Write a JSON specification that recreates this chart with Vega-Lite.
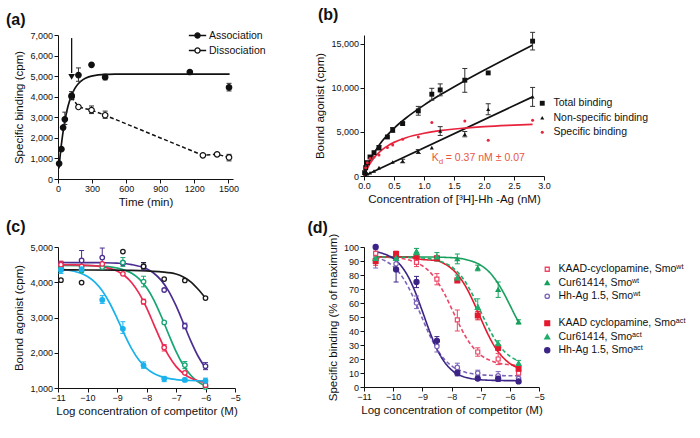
{
 "$schema": "https://vega.github.io/schema/vega-lite/v6.json",
 "padding": {"left": 5, "top": 6, "right": 0, "bottom": 0},
 "config": {
  "font": "Liberation Sans",
  "view": {"stroke": null},
  "axis": {"grid": false, "domainColor": "#111", "tickColor": "#111", "labelColor": "#111", "titleColor": "#111", "labelFontSize": 9, "titleFontSize": 11.5, "titleFontWeight": "normal", "tickSize": 4, "labelPadding": 1.5, "labelFlush": false, "labelOverlap": false, "labelBound": false, "domainWidth": 1, "tickWidth": 1},
  "axisX": {"titlePadding": 3},
  "axisY": {"titlePadding": 5},
  "legend": {"labelFontSize": 10.5, "labelColor": "#111", "rowPadding": 2.5, "symbolStrokeWidth": 1.3, "padding": 0, "labelOffset": 6, "labelLimit": 300, "title": null},
  "title": {"color": "#111"}
 },
 "datasets": {
  "a_fit": [{"t":8,"y":519},{"t":20,"y":1200},{"t":40,"y":2115},{"t":60,"y":2817},{"t":80,"y":3355},{"t":100,"y":3765},{"t":120,"y":4078},{"t":150,"y":4417},{"t":180,"y":4643},{"t":220,"y":4833},{"t":270,"y":4963},{"t":330,"y":5039},{"t":400,"y":5075},{"t":500,"y":5094},{"t":700,"y":5100},{"t":1510,"y":5100}],
  "a_pts": [
   {"s":"Dissociation","t":120,"y":4000},{"s":"Dissociation","t":180,"y":3500},{"s":"Dissociation","t":295,"y":3350,"lo":3180,"hi":3550},{"s":"Dissociation","t":415,"y":3100,"lo":2950,"hi":3300},{"s":"Dissociation","t":1275,"y":1150},{"s":"Dissociation","t":1400,"y":1200,"lo":1130,"hi":1260},{"s":"Dissociation","t":1505,"y":1050,"lo":880,"hi":1200},
   {"s":"Association","t":10,"y":750},{"s":"Association","t":30,"y":1450},{"s":"Association","t":45,"y":2500},{"s":"Association","t":60,"y":2900,"lo":2650,"hi":3250},{"s":"Association","t":120,"y":4050,"lo":3850,"hi":4250},{"s":"Association","t":180,"y":5050,"lo":4750,"hi":5400},{"s":"Association","t":295,"y":5550},{"s":"Association","t":415,"y":4950,"lo":4820,"hi":5100},{"s":"Association","t":1160,"y":5200},{"s":"Association","t":1505,"y":4450,"lo":4280,"hi":4650}
  ],
  "b_fit": [
   {"s":"Total","x":0,"y":0},{"s":"Total","x":0.02,"y":405},{"s":"Total","x":0.05,"y":950},{"s":"Total","x":0.1,"y":1733},{"s":"Total","x":0.15,"y":2394},{"s":"Total","x":0.2,"y":2969},{"s":"Total","x":0.3,"y":3932},{"s":"Total","x":0.4,"y":4727},{"s":"Total","x":0.5,"y":5414},{"s":"Total","x":0.7,"y":6581},{"s":"Total","x":1.0,"y":8042},{"s":"Total","x":1.3,"y":9323},{"s":"Total","x":1.6,"y":10505},{"s":"Total","x":2.0,"y":11994},{"s":"Total","x":2.4,"y":13421},{"s":"Total","x":2.81,"y":14844},
   {"s":"NS","x":0,"y":0},{"s":"NS","x":2.81,"y":8977},
   {"s":"Specific","x":0,"y":0},{"s":"Specific","x":0.02,"y":341},{"s":"Specific","x":0.05,"y":790},{"s":"Specific","x":0.1,"y":1413},{"s":"Specific","x":0.15,"y":1915},{"s":"Specific","x":0.2,"y":2330},{"s":"Specific","x":0.3,"y":2973},{"s":"Specific","x":0.4,"y":3449},{"s":"Specific","x":0.5,"y":3816},{"s":"Specific","x":0.7,"y":4344},{"s":"Specific","x":1.0,"y":4847},{"s":"Specific","x":1.3,"y":5169},{"s":"Specific","x":1.6,"y":5393},{"s":"Specific","x":2.0,"y":5604},{"s":"Specific","x":2.4,"y":5753},{"s":"Specific","x":2.81,"y":5867}
  ],
  "b_pts": [
   {"s":"Total binding","x":2.81,"y":15300,"lo":14300,"hi":16300},{"s":"Total binding","x":2.07,"y":11700},{"s":"Total binding","x":1.68,"y":10870,"lo":9500,"hi":12200},{"s":"Total binding","x":1.27,"y":9770,"lo":9100,"hi":10450},{"s":"Total binding","x":1.13,"y":9280,"lo":8600,"hi":9950},{"s":"Total binding","x":0.905,"y":7390,"lo":6900,"hi":7900},{"s":"Total binding","x":0.644,"y":5950,"lo":5800,"hi":6100},{"s":"Total binding","x":0.478,"y":5230,"lo":4950,"hi":5500},{"s":"Total binding","x":0.39,"y":4430},{"s":"Total binding","x":0.25,"y":3220,"lo":2950,"hi":3450},{"s":"Total binding","x":0.167,"y":2650},{"s":"Total binding","x":0.1,"y":2160},{"s":"Total binding","x":0.056,"y":1515},{"s":"Total binding","x":0.028,"y":950},{"s":"Total binding","x":0.01,"y":380},
   {"s":"Non-specific binding","x":2.81,"y":8980,"lo":7900,"hi":10050},{"s":"Non-specific binding","x":2.07,"y":7580,"lo":6950,"hi":8200},{"s":"Non-specific binding","x":1.68,"y":4730,"lo":4450,"hi":5050},{"s":"Non-specific binding","x":1.27,"y":5110,"lo":4600,"hi":5600},{"s":"Non-specific binding","x":1.13,"y":3220},{"s":"Non-specific binding","x":0.905,"y":2770,"lo":2550,"hi":3000},{"s":"Non-specific binding","x":0.644,"y":1700,"lo":1500,"hi":1900},{"s":"Non-specific binding","x":0.478,"y":1590},{"s":"Non-specific binding","x":0.25,"y":950},{"s":"Non-specific binding","x":0.167,"y":570},{"s":"Non-specific binding","x":0.1,"y":380},{"s":"Non-specific binding","x":0.056,"y":270},{"s":"Non-specific binding","x":0.028,"y":110},
   {"s":"Specific binding","x":2.81,"y":6330},{"s":"Specific binding","x":2.07,"y":4050},{"s":"Specific binding","x":1.68,"y":6250},{"s":"Specific binding","x":1.13,"y":6060},{"s":"Specific binding","x":0.905,"y":4430},{"s":"Specific binding","x":0.644,"y":4170},{"s":"Specific binding","x":0.478,"y":3520},{"s":"Specific binding","x":0.39,"y":3220},{"s":"Specific binding","x":0.25,"y":2390},{"s":"Specific binding","x":0.167,"y":2160},{"s":"Specific binding","x":0.1,"y":2000},{"s":"Specific binding","x":0.056,"y":1515},{"s":"Specific binding","x":0.028,"y":950}
  ],
  "c_fit": [
   {"s":"Hh-Ag 1.1","x":-11,"y":4560},{"s":"Hh-Ag 1.1","x":-10,"y":4558},{"s":"Hh-Ag 1.1","x":-9.5,"y":4554},{"s":"Hh-Ag 1.1","x":-9,"y":4542},{"s":"Hh-Ag 1.1","x":-8.5,"y":4502},{"s":"Hh-Ag 1.1","x":-8,"y":4382},{"s":"Hh-Ag 1.1","x":-7.75,"y":4256},{"s":"Hh-Ag 1.1","x":-7.5,"y":4053},{"s":"Hh-Ag 1.1","x":-7.25,"y":3749},{"s":"Hh-Ag 1.1","x":-7,"y":3334},{"s":"Hh-Ag 1.1","x":-6.75,"y":2842},{"s":"Hh-Ag 1.1","x":-6.5,"y":2338},{"s":"Hh-Ag 1.1","x":-6.25,"y":1901},{"s":"Hh-Ag 1.1","x":-6,"y":1570},
   {"s":"Hh-Ag 1.2","x":-11,"y":4479},{"s":"Hh-Ag 1.2","x":-10,"y":4472},{"s":"Hh-Ag 1.2","x":-9.5,"y":4456},{"s":"Hh-Ag 1.2","x":-9,"y":4405},{"s":"Hh-Ag 1.2","x":-8.5,"y":4253},{"s":"Hh-Ag 1.2","x":-8.25,"y":4096},{"s":"Hh-Ag 1.2","x":-8,"y":3849},{"s":"Hh-Ag 1.2","x":-7.75,"y":3494},{"s":"Hh-Ag 1.2","x":-7.5,"y":3036},{"s":"Hh-Ag 1.2","x":-7.25,"y":2526},{"s":"Hh-Ag 1.2","x":-7,"y":2041},{"s":"Hh-Ag 1.2","x":-6.75,"y":1646},{"s":"Hh-Ag 1.2","x":-6.5,"y":1361},{"s":"Hh-Ag 1.2","x":-6.25,"y":1175},{"s":"Hh-Ag 1.2","x":-6,"y":1060},
   {"s":"Hh-Ag 1.3","x":-11,"y":4498},{"s":"Hh-Ag 1.3","x":-10,"y":4481},{"s":"Hh-Ag 1.3","x":-9.5,"y":4441},{"s":"Hh-Ag 1.3","x":-9,"y":4319},{"s":"Hh-Ag 1.3","x":-8.75,"y":4191},{"s":"Hh-Ag 1.3","x":-8.5,"y":3986},{"s":"Hh-Ag 1.3","x":-8.25,"y":3684},{"s":"Hh-Ag 1.3","x":-8,"y":3277},{"s":"Hh-Ag 1.3","x":-7.75,"y":2800},{"s":"Hh-Ag 1.3","x":-7.5,"y":2324},{"s":"Hh-Ag 1.3","x":-7.25,"y":1917},{"s":"Hh-Ag 1.3","x":-7,"y":1614},{"s":"Hh-Ag 1.3","x":-6.75,"y":1409},{"s":"Hh-Ag 1.3","x":-6.5,"y":1281},{"s":"Hh-Ag 1.3","x":-6.25,"y":1204},{"s":"Hh-Ag 1.3","x":-6,"y":1159},
   {"s":"Hh-Ag 1.5","x":-11,"y":4375},{"s":"Hh-Ag 1.5","x":-10.5,"y":4322},{"s":"Hh-Ag 1.5","x":-10,"y":4165},{"s":"Hh-Ag 1.5","x":-9.75,"y":4005},{"s":"Hh-Ag 1.5","x":-9.5,"y":3758},{"s":"Hh-Ag 1.5","x":-9.25,"y":3411},{"s":"Hh-Ag 1.5","x":-9,"y":2984},{"s":"Hh-Ag 1.5","x":-8.75,"y":2526},{"s":"Hh-Ag 1.5","x":-8.5,"y":2111},{"s":"Hh-Ag 1.5","x":-8.25,"y":1785},{"s":"Hh-Ag 1.5","x":-8,"y":1558},{"s":"Hh-Ag 1.5","x":-7.75,"y":1412},{"s":"Hh-Ag 1.5","x":-7.5,"y":1323},{"s":"Hh-Ag 1.5","x":-7,"y":1240},{"s":"Hh-Ag 1.5","x":-6.5,"y":1213},{"s":"Hh-Ag 1.5","x":-6,"y":1204},
   {"s":"Inactive Hh-Ag","x":-11,"y":4350},{"s":"Inactive Hh-Ag","x":-10,"y":4348},{"s":"Inactive Hh-Ag","x":-9,"y":4342},{"s":"Inactive Hh-Ag","x":-8.5,"y":4335},{"s":"Inactive Hh-Ag","x":-8,"y":4320},{"s":"Inactive Hh-Ag","x":-7.5,"y":4295},{"s":"Inactive Hh-Ag","x":-7,"y":4235},{"s":"Inactive Hh-Ag","x":-6.75,"y":4150},{"s":"Inactive Hh-Ag","x":-6.5,"y":4010},{"s":"Inactive Hh-Ag","x":-6.25,"y":3800},{"s":"Inactive Hh-Ag","x":-6,"y":3550}
  ],
  "c_pts": [
   {"s":"Hh-Ag 1.1","x":-10.9,"y":4480,"lo":4380,"hi":4580},{"s":"Hh-Ag 1.1","x":-10.2,"y":4620,"lo":4450,"hi":4900},{"s":"Hh-Ag 1.1","x":-9.5,"y":4700,"lo":4450,"hi":4970},{"s":"Hh-Ag 1.1","x":-8.8,"y":4540},{"s":"Hh-Ag 1.1","x":-8.1,"y":4450,"lo":4350,"hi":4560},{"s":"Hh-Ag 1.1","x":-7.4,"y":3780},{"s":"Hh-Ag 1.1","x":-6.7,"y":2760,"lo":2680,"hi":2840},{"s":"Hh-Ag 1.1","x":-6.0,"y":1620,"lo":1520,"hi":1720},
   {"s":"Hh-Ag 1.2","x":-10.9,"y":4400,"lo":4300,"hi":4500},{"s":"Hh-Ag 1.2","x":-10.2,"y":4330},{"s":"Hh-Ag 1.2","x":-9.5,"y":4430},{"s":"Hh-Ag 1.2","x":-8.8,"y":4560,"lo":4450,"hi":4700},{"s":"Hh-Ag 1.2","x":-8.1,"y":4020,"lo":3870,"hi":4170},{"s":"Hh-Ag 1.2","x":-7.4,"y":2860},{"s":"Hh-Ag 1.2","x":-6.7,"y":1650,"lo":1550,"hi":1750},{"s":"Hh-Ag 1.2","x":-6.0,"y":1030},
   {"s":"Hh-Ag 1.3","x":-10.9,"y":4500,"lo":4400,"hi":4600},{"s":"Hh-Ag 1.3","x":-10.2,"y":4450},{"s":"Hh-Ag 1.3","x":-9.5,"y":4520},{"s":"Hh-Ag 1.3","x":-8.8,"y":4240},{"s":"Hh-Ag 1.3","x":-8.1,"y":3450,"lo":3380,"hi":3520},{"s":"Hh-Ag 1.3","x":-7.4,"y":2150,"lo":2050,"hi":2230},{"s":"Hh-Ag 1.3","x":-6.7,"y":1430},{"s":"Hh-Ag 1.3","x":-6.0,"y":1080,"lo":1020,"hi":1150},
   {"s":"Hh-Ag 1.5","x":-10.9,"y":4350,"lo":4250,"hi":4450},{"s":"Hh-Ag 1.5","x":-10.2,"y":4370,"lo":4280,"hi":4450},{"s":"Hh-Ag 1.5","x":-9.5,"y":3500,"lo":3400,"hi":3620},{"s":"Hh-Ag 1.5","x":-8.8,"y":2680,"lo":2550,"hi":2880},{"s":"Hh-Ag 1.5","x":-8.1,"y":1640,"lo":1560,"hi":1740},{"s":"Hh-Ag 1.5","x":-7.4,"y":1260,"lo":1180,"hi":1330},{"s":"Hh-Ag 1.5","x":-6.7,"y":1230,"lo":1180,"hi":1280},{"s":"Hh-Ag 1.5","x":-6.0,"y":1200,"lo":1100,"hi":1280},
   {"s":"Inactive Hh-Ag","x":-10.9,"y":4060},{"s":"Inactive Hh-Ag","x":-10.2,"y":3990},{"s":"Inactive Hh-Ag","x":-8.8,"y":4870},{"s":"Inactive Hh-Ag","x":-8.1,"y":4450,"lo":4380,"hi":4550},{"s":"Inactive Hh-Ag","x":-7.4,"y":4090},{"s":"Inactive Hh-Ag","x":-6.7,"y":4050},{"s":"Inactive Hh-Ag","x":-6.0,"y":3550}
  ],
  "d_fit": [
   {"s":"KAAD-cyclopamine,  Smoʷᵗ","x":-10.6,"y":92.8},{"s":"KAAD-cyclopamine,  Smoʷᵗ","x":-10,"y":92.3},{"s":"KAAD-cyclopamine,  Smoʷᵗ","x":-9.5,"y":90.9},{"s":"KAAD-cyclopamine,  Smoʷᵗ","x":-9,"y":86.6},{"s":"KAAD-cyclopamine,  Smoʷᵗ","x":-8.75,"y":82.4},{"s":"KAAD-cyclopamine,  Smoʷᵗ","x":-8.5,"y":75.8},{"s":"KAAD-cyclopamine,  Smoʷᵗ","x":-8.25,"y":67.0},{"s":"KAAD-cyclopamine,  Smoʷᵗ","x":-8,"y":56.2},{"s":"KAAD-cyclopamine,  Smoʷᵗ","x":-7.75,"y":45.2},{"s":"KAAD-cyclopamine,  Smoʷᵗ","x":-7.5,"y":35.4},{"s":"KAAD-cyclopamine,  Smoʷᵗ","x":-7.25,"y":28.0},{"s":"KAAD-cyclopamine,  Smoʷᵗ","x":-7,"y":22.9},{"s":"KAAD-cyclopamine,  Smoʷᵗ","x":-6.5,"y":17.7},{"s":"KAAD-cyclopamine,  Smoʷᵗ","x":-6,"y":15.9},{"s":"KAAD-cyclopamine,  Smoʷᵗ","x":-5.7,"y":15.4},
   {"s":"Cur61414, Smoʷᵗ","x":-10.6,"y":93},{"s":"Cur61414, Smoʷᵗ","x":-9,"y":92.9},{"s":"Cur61414, Smoʷᵗ","x":-8,"y":92.4},{"s":"Cur61414, Smoʷᵗ","x":-7.5,"y":91.0},{"s":"Cur61414, Smoʷᵗ","x":-7,"y":87.0},{"s":"Cur61414, Smoʷᵗ","x":-6.75,"y":83.0},{"s":"Cur61414, Smoʷᵗ","x":-6.5,"y":76.9},{"s":"Cur61414, Smoʷᵗ","x":-6.25,"y":68.6},{"s":"Cur61414, Smoʷᵗ","x":-6,"y":58.6},{"s":"Cur61414, Smoʷᵗ","x":-5.85,"y":52.3},{"s":"Cur61414, Smoʷᵗ","x":-5.7,"y":46.3},
   {"s":"Hh-Ag 1.5, Smoʷᵗ","x":-10.6,"y":92.6},{"s":"Hh-Ag 1.5, Smoʷᵗ","x":-10.25,"y":89.8},{"s":"Hh-Ag 1.5, Smoʷᵗ","x":-10,"y":86.2},{"s":"Hh-Ag 1.5, Smoʷᵗ","x":-9.75,"y":80.5},{"s":"Hh-Ag 1.5, Smoʷᵗ","x":-9.5,"y":72.2},{"s":"Hh-Ag 1.5, Smoʷᵗ","x":-9.25,"y":61.3},{"s":"Hh-Ag 1.5, Smoʷᵗ","x":-9,"y":49.0},{"s":"Hh-Ag 1.5, Smoʷᵗ","x":-8.75,"y":37.0},{"s":"Hh-Ag 1.5, Smoʷᵗ","x":-8.5,"y":27.1},{"s":"Hh-Ag 1.5, Smoʷᵗ","x":-8.25,"y":19.9},{"s":"Hh-Ag 1.5, Smoʷᵗ","x":-8,"y":15.1},{"s":"Hh-Ag 1.5, Smoʷᵗ","x":-7.5,"y":10.4},{"s":"Hh-Ag 1.5, Smoʷᵗ","x":-7,"y":8.8},{"s":"Hh-Ag 1.5, Smoʷᵗ","x":-6.5,"y":8.2},{"s":"Hh-Ag 1.5, Smoʷᵗ","x":-5.7,"y":8.0},
   {"s":"KAAD cyclopamine,  Smoᵃᶜᵗ","x":-10.6,"y":93},{"s":"KAAD cyclopamine,  Smoᵃᶜᵗ","x":-9.5,"y":92.7},{"s":"KAAD cyclopamine,  Smoᵃᶜᵗ","x":-9,"y":91.1},{"s":"KAAD cyclopamine,  Smoᵃᶜᵗ","x":-8.5,"y":90.2},{"s":"KAAD cyclopamine,  Smoᵃᶜᵗ","x":-8.25,"y":88.1},{"s":"KAAD cyclopamine,  Smoᵃᶜᵗ","x":-8,"y":84.6},{"s":"KAAD cyclopamine,  Smoᵃᶜᵗ","x":-7.75,"y":79.2},{"s":"KAAD cyclopamine,  Smoᵃᶜᵗ","x":-7.5,"y":71.3},{"s":"KAAD cyclopamine,  Smoᵃᶜᵗ","x":-7.25,"y":60.9},{"s":"KAAD cyclopamine,  Smoᵃᶜᵗ","x":-7,"y":49.1},{"s":"KAAD cyclopamine,  Smoᵃᶜᵗ","x":-6.75,"y":37.7},{"s":"KAAD cyclopamine,  Smoᵃᶜᵗ","x":-6.5,"y":28.2},{"s":"KAAD cyclopamine,  Smoᵃᶜᵗ","x":-6.25,"y":21.4},{"s":"KAAD cyclopamine,  Smoᵃᶜᵗ","x":-6,"y":16.8},{"s":"KAAD cyclopamine,  Smoᵃᶜᵗ","x":-5.7,"y":13.5},
   {"s":"Cur61414, Smoᵃᶜᵗ","x":-10.6,"y":93},{"s":"Cur61414, Smoᵃᶜᵗ","x":-9,"y":92.2},{"s":"Cur61414, Smoᵃᶜᵗ","x":-8.5,"y":90.6},{"s":"Cur61414, Smoᵃᶜᵗ","x":-8.25,"y":88.8},{"s":"Cur61414, Smoᵃᶜᵗ","x":-8,"y":85.9},{"s":"Cur61414, Smoᵃᶜᵗ","x":-7.75,"y":81.2},{"s":"Cur61414, Smoᵃᶜᵗ","x":-7.5,"y":74.3},{"s":"Cur61414, Smoᵃᶜᵗ","x":-7.25,"y":64.9},{"s":"Cur61414, Smoᵃᶜᵗ","x":-7,"y":54},{"s":"Cur61414, Smoᵃᶜᵗ","x":-6.75,"y":43.1},{"s":"Cur61414, Smoᵃᶜᵗ","x":-6.5,"y":33.7},{"s":"Cur61414, Smoᵃᶜᵗ","x":-6.25,"y":26.8},{"s":"Cur61414, Smoᵃᶜᵗ","x":-6,"y":22.1},{"s":"Cur61414, Smoᵃᶜᵗ","x":-5.7,"y":18.7},
   {"s":"Hh-Ag 1.5, Smoᵃᶜᵗ","x":-10.6,"y":96.6},{"s":"Hh-Ag 1.5, Smoᵃᶜᵗ","x":-10.25,"y":94.6},{"s":"Hh-Ag 1.5, Smoᵃᶜᵗ","x":-10,"y":91.9},{"s":"Hh-Ag 1.5, Smoᵃᶜᵗ","x":-9.75,"y":87.1},{"s":"Hh-Ag 1.5, Smoᵃᶜᵗ","x":-9.5,"y":79.4},{"s":"Hh-Ag 1.5, Smoᵃᶜᵗ","x":-9.25,"y":68.2},{"s":"Hh-Ag 1.5, Smoᵃᶜᵗ","x":-9,"y":54.2},{"s":"Hh-Ag 1.5, Smoᵃᶜᵗ","x":-8.75,"y":39.7},{"s":"Hh-Ag 1.5, Smoᵃᶜᵗ","x":-8.5,"y":27.1},{"s":"Hh-Ag 1.5, Smoᵃᶜᵗ","x":-8.25,"y":18.1},{"s":"Hh-Ag 1.5, Smoᵃᶜᵗ","x":-8,"y":12.2},{"s":"Hh-Ag 1.5, Smoᵃᶜᵗ","x":-7.5,"y":6.8},{"s":"Hh-Ag 1.5, Smoᵃᶜᵗ","x":-7,"y":5.2},{"s":"Hh-Ag 1.5, Smoᵃᶜᵗ","x":-6.5,"y":4.7},{"s":"Hh-Ag 1.5, Smoᵃᶜᵗ","x":-5.7,"y":4.5}
  ],
  "d_pts": [
   {"s":"KAAD-cyclopamine,  Smoʷᵗ","x":-10.6,"y":95.5,"lo":92,"hi":98},{"s":"KAAD-cyclopamine,  Smoʷᵗ","x":-9.9,"y":95},{"s":"KAAD-cyclopamine,  Smoʷᵗ","x":-9.2,"y":89,"lo":86,"hi":92},{"s":"KAAD-cyclopamine,  Smoʷᵗ","x":-8.5,"y":77,"lo":73,"hi":81},{"s":"KAAD-cyclopamine,  Smoʷᵗ","x":-7.8,"y":48,"lo":40,"hi":55},{"s":"KAAD-cyclopamine,  Smoʷᵗ","x":-7.1,"y":25,"lo":22,"hi":28},{"s":"KAAD-cyclopamine,  Smoʷᵗ","x":-6.4,"y":20,"lo":16,"hi":24},{"s":"KAAD-cyclopamine,  Smoʷᵗ","x":-5.7,"y":10,"lo":7,"hi":12},
   {"s":"Cur61414, Smoʷᵗ","x":-10.6,"y":92},{"s":"Cur61414, Smoʷᵗ","x":-9.9,"y":92},{"s":"Cur61414, Smoʷᵗ","x":-9.2,"y":97,"lo":94,"hi":99},{"s":"Cur61414, Smoʷᵗ","x":-8.5,"y":93,"lo":90,"hi":96},{"s":"Cur61414, Smoʷᵗ","x":-7.8,"y":91.5,"lo":88,"hi":95},{"s":"Cur61414, Smoʷᵗ","x":-7.1,"y":85,"lo":83,"hi":87},{"s":"Cur61414, Smoʷᵗ","x":-6.4,"y":69.5,"lo":64,"hi":75},{"s":"Cur61414, Smoʷᵗ","x":-5.7,"y":46.5,"lo":45,"hi":48},
   {"s":"Hh-Ag 1.5, Smoʷᵗ","x":-10.6,"y":91,"lo":85,"hi":96},{"s":"Hh-Ag 1.5, Smoʷᵗ","x":-9.9,"y":88},{"s":"Hh-Ag 1.5, Smoʷᵗ","x":-9.2,"y":60,"lo":56,"hi":65},{"s":"Hh-Ag 1.5, Smoʷᵗ","x":-8.5,"y":29,"lo":25,"hi":33},{"s":"Hh-Ag 1.5, Smoʷᵗ","x":-7.8,"y":14,"lo":11,"hi":17},{"s":"Hh-Ag 1.5, Smoʷᵗ","x":-7.1,"y":10,"lo":7,"hi":12},{"s":"Hh-Ag 1.5, Smoʷᵗ","x":-6.4,"y":8,"lo":6,"hi":11},{"s":"Hh-Ag 1.5, Smoʷᵗ","x":-5.7,"y":6,"lo":4,"hi":8},
   {"s":"KAAD cyclopamine,  Smoᵃᶜᵗ","x":-10.6,"y":90,"lo":87,"hi":93},{"s":"KAAD cyclopamine,  Smoᵃᶜᵗ","x":-9.9,"y":95,"lo":93,"hi":97},{"s":"KAAD cyclopamine,  Smoᵃᶜᵗ","x":-9.2,"y":93},{"s":"KAAD cyclopamine,  Smoᵃᶜᵗ","x":-8.5,"y":92},{"s":"KAAD cyclopamine,  Smoᵃᶜᵗ","x":-7.8,"y":76},{"s":"KAAD cyclopamine,  Smoᵃᶜᵗ","x":-7.1,"y":51,"lo":48,"hi":54},{"s":"KAAD cyclopamine,  Smoᵃᶜᵗ","x":-6.4,"y":28,"lo":26,"hi":30},{"s":"KAAD cyclopamine,  Smoᵃᶜᵗ","x":-5.7,"y":13,"lo":11,"hi":15},
   {"s":"Cur61414, Smoᵃᶜᵗ","x":-10.6,"y":92},{"s":"Cur61414, Smoᵃᶜᵗ","x":-9.9,"y":92},{"s":"Cur61414, Smoᵃᶜᵗ","x":-9.2,"y":96},{"s":"Cur61414, Smoᵃᶜᵗ","x":-8.5,"y":93},{"s":"Cur61414, Smoᵃᶜᵗ","x":-7.8,"y":78,"lo":76,"hi":80},{"s":"Cur61414, Smoᵃᶜᵗ","x":-7.1,"y":57,"lo":52,"hi":63},{"s":"Cur61414, Smoᵃᶜᵗ","x":-6.4,"y":31,"lo":29,"hi":33},{"s":"Cur61414, Smoᵃᶜᵗ","x":-5.7,"y":17,"lo":15,"hi":19},
   {"s":"Hh-Ag 1.5, Smoᵃᶜᵗ","x":-10.6,"y":100},{"s":"Hh-Ag 1.5, Smoᵃᶜᵗ","x":-9.9,"y":84,"lo":75,"hi":92},{"s":"Hh-Ag 1.5, Smoᵃᶜᵗ","x":-9.2,"y":75,"lo":71,"hi":79},{"s":"Hh-Ag 1.5, Smoᵃᶜᵗ","x":-8.5,"y":33,"lo":30,"hi":36},{"s":"Hh-Ag 1.5, Smoᵃᶜᵗ","x":-7.8,"y":10,"lo":8,"hi":12},{"s":"Hh-Ag 1.5, Smoᵃᶜᵗ","x":-7.1,"y":6,"lo":5,"hi":8},{"s":"Hh-Ag 1.5, Smoᵃᶜᵗ","x":-6.4,"y":6,"lo":4,"hi":8},{"s":"Hh-Ag 1.5, Smoᵃᶜᵗ","x":-5.7,"y":4,"lo":3,"hi":6}
  ]
 },
 "columns": 2,
 "bounds": "flush",
 "spacing": {"row": 68, "column": 129},
 "resolve": {"scale": {"color": "independent", "fill": "independent", "stroke": "independent", "shape": "independent", "size": "independent", "strokeDash": "independent"}},
 "concat": [
  {"width": 175, "height": 144,
   "title": {"text": "(a)", "anchor": "start", "frame": "bounds", "fontSize": 16, "fontWeight": "bold", "dx": -8, "offset": -1.5},
   "layer": [
    {"data": {"name": "a_fit"},
     "mark": {"type": "line", "color": "#111", "strokeWidth": 1.7, "interpolate": "monotone"},
     "encoding": {
      "x": {"field": "t", "type": "quantitative", "scale": {"domain": [0, 1540], "nice": false}, "title": "Time (min)", "axis": {"values": [0, 300, 600, 900, 1200, 1500], "tickCount": 30, "format": "d"}},
      "y": {"field": "y", "type": "quantitative", "scale": {"domain": [0, 7000], "nice": false}, "title": "Specific binding (cpm)", "axis": {"values": [0, 1000, 2000, 3000, 4000, 5000, 6000, 7000], "tickCount": 30, "format": ",.0f"}}}},
    {"data": {"name": "a_pts"}, "transform": [{"filter": "datum.s === 'Dissociation'"}],
     "mark": {"type": "line", "color": "#111", "strokeWidth": 1.5, "strokeDash": [4, 2.5]},
     "encoding": {"x": {"field": "t", "type": "quantitative"}, "y": {"field": "y", "type": "quantitative"}}},
    {"data": {"name": "a_pts"}, "transform": [{"filter": "isValid(datum.lo)"}],
     "mark": {"type": "rule", "color": "#333", "strokeWidth": 1},
     "encoding": {"x": {"field": "t", "type": "quantitative"}, "y": {"field": "lo", "type": "quantitative"}, "y2": {"field": "hi"}}},
    {"data": {"name": "a_pts"}, "transform": [{"filter": "isValid(datum.lo)"}, {"fold": ["lo", "hi"], "as": ["k", "v"]}],
     "mark": {"type": "point", "shape": "stroke", "size": 25, "color": "#333", "strokeWidth": 1, "opacity": 1},
     "encoding": {"x": {"field": "t", "type": "quantitative"}, "y": {"field": "v", "type": "quantitative"}}},
    {"data": {"values": [{}]},
     "mark": {"type": "rule", "color": "#111", "strokeWidth": 1.3},
     "encoding": {"x": {"datum": 120, "type": "quantitative"}, "y": {"datum": 6850, "type": "quantitative"}, "y2": {"datum": 5150}}},
    {"data": {"values": [{}]},
     "mark": {"type": "point", "shape": "triangle-down", "filled": true, "color": "#111", "size": 45, "opacity": 1},
     "encoding": {"x": {"datum": 120, "type": "quantitative"}, "y": {"datum": 4960, "type": "quantitative"}}},
    {"data": {"name": "a_pts"},
     "mark": {"type": "point", "filled": true, "stroke": "#111", "strokeWidth": 1.2, "size": 30, "opacity": 1},
     "encoding": {
      "x": {"field": "t", "type": "quantitative"}, "y": {"field": "y", "type": "quantitative"},
      "fill": {"field": "s", "type": "nominal", "scale": {"domain": ["Association", "Dissociation"], "range": ["#111", "white"]},
       "legend": {"orient": "none", "legendX": 130, "legendY": -9, "symbolType": "M-1,0H-0.3M0.3,0H1M-0.3,0A0.3,0.3 0 1,0 0.3,0A0.3,0.3 0 1,0 -0.3,0Z", "symbolSize": 300, "symbolStrokeColor": "#111", "symbolStrokeWidth": 1.3, "labelOffset": 2, "rowPadding": -2,
        "encode": {"symbols": {"update": {"shape": {"signal": "datum.value === 'Dissociation' ? 'M-1,0H-0.8M-0.62,0H-0.42M0.42,0H0.62M0.8,0H1M-0.3,0A0.3,0.3 0 1,0 0.3,0A0.3,0.3 0 1,0 -0.3,0Z' : 'M-1,0H-0.3M0.3,0H1M-0.3,0A0.3,0.3 0 1,0 0.3,0A0.3,0.3 0 1,0 -0.3,0Z'"}, "stroke": {"value": "#111"}}}}}}}}
   ]},
  {"width": 180, "height": 141,
   "title": {"text": "(b)", "anchor": "start", "frame": "bounds", "fontSize": 16, "fontWeight": "bold", "dx": 3, "offset": 7.5},
   "layer": [
    {"data": {"name": "b_fit"},
     "mark": {"type": "line", "strokeWidth": 1.7, "interpolate": "monotone"},
     "encoding": {
      "x": {"field": "x", "type": "quantitative", "scale": {"domain": [0, 3], "nice": false}, "title": "Concentration of [³H]-Hh -Ag (nM)", "axis": {"values": [0, 0.5, 1, 1.5, 2, 2.5, 3], "tickCount": 30, "format": ".1f"}},
      "y": {"field": "y", "type": "quantitative", "scale": {"domain": [0, 16000], "nice": false}, "title": "Bound agonist (cpm)", "axis": {"values": [0, 5000, 10000, 15000], "tickCount": 30, "format": ",.0f"}},
      "color": {"field": "s", "type": "nominal", "scale": {"domain": ["Total", "NS", "Specific"], "range": ["#111", "#111", "#e8233c"]}, "legend": null}}},
    {"data": {"name": "b_pts"}, "transform": [{"filter": "isValid(datum.lo)"}],
     "mark": {"type": "rule", "color": "#333", "strokeWidth": 1},
     "encoding": {"x": {"field": "x", "type": "quantitative"}, "y": {"field": "lo", "type": "quantitative"}, "y2": {"field": "hi"}}},
    {"data": {"name": "b_pts"}, "transform": [{"filter": "isValid(datum.lo)"}, {"fold": ["lo", "hi"], "as": ["k", "v"]}],
     "mark": {"type": "point", "shape": "stroke", "size": 25, "color": "#333", "strokeWidth": 1, "opacity": 1},
     "encoding": {"x": {"field": "x", "type": "quantitative"}, "y": {"field": "v", "type": "quantitative"}}},
    {"data": {"name": "b_pts"},
     "mark": {"type": "point", "filled": true, "opacity": 1, "strokeWidth": 0},
     "encoding": {
      "x": {"field": "x", "type": "quantitative"}, "y": {"field": "y", "type": "quantitative"},
      "shape": {"field": "s", "type": "nominal", "scale": {"domain": ["Total binding", "Non-specific binding", "Specific binding"], "range": ["square", "triangle-up", "circle"]}, "legend": {"orient": "none", "legendX": 173, "legendY": 63, "rowPadding": 3.5}},
      "fill": {"field": "s", "type": "nominal", "scale": {"domain": ["Total binding", "Non-specific binding", "Specific binding"], "range": ["#111", "#111", "#e8233c"]}, "legend": {"orient": "none", "legendX": 173, "legendY": 63, "rowPadding": 3.5}},
      "size": {"field": "s", "type": "nominal", "scale": {"domain": ["Total binding", "Non-specific binding", "Specific binding"], "range": [24, 9, 16]}, "legend": {"orient": "none", "legendX": 173, "legendY": 63, "rowPadding": 3.5}}}},
    {"data": {"values": [{}]},
     "mark": {"type": "text", "text": "K", "align": "left", "baseline": "alphabetic", "fontSize": 10.5, "color": "#e9573f"},
     "encoding": {"x": {"datum": 1.13, "type": "quantitative"}, "y": {"datum": 1700, "type": "quantitative"}}},
    {"data": {"values": [{}]},
     "mark": {"type": "text", "text": "d", "align": "left", "baseline": "alphabetic", "fontSize": 8, "dx": 7, "dy": 3, "color": "#e9573f"},
     "encoding": {"x": {"datum": 1.13, "type": "quantitative"}, "y": {"datum": 1700, "type": "quantitative"}}},
    {"data": {"values": [{}]},
     "mark": {"type": "text", "text": "= 0.37 nM ± 0.07", "align": "left", "baseline": "alphabetic", "fontSize": 10.5, "dx": 14, "color": "#e9573f"},
     "encoding": {"x": {"datum": 1.13, "type": "quantitative"}, "y": {"datum": 1700, "type": "quantitative"}}}
   ]},
  {"width": 177, "height": 141,
   "title": {"text": "(c)", "anchor": "start", "frame": "bounds", "fontSize": 16, "fontWeight": "bold", "dx": -8, "offset": 8},
   "layer": [
    {"data": {"name": "c_fit"},
     "mark": {"type": "line", "strokeWidth": 1.7, "interpolate": "monotone"},
     "encoding": {
      "x": {"field": "x", "type": "quantitative", "scale": {"domain": [-11, -5], "nice": false}, "title": "Log concentration of competitor (M)", "axis": {"values": [-11, -10, -9, -8, -7, -6, -5], "tickCount": 30, "format": "d"}},
      "y": {"field": "y", "type": "quantitative", "scale": {"domain": [1000, 5000], "nice": false, "zero": false}, "title": "Bound agonist (cpm)", "axis": {"values": [1000, 2000, 3000, 4000, 5000], "tickCount": 30, "format": ",.0f"}},
      "color": {"field": "s", "type": "nominal", "scale": {"domain": ["Hh-Ag 1.1", "Hh-Ag 1.2", "Hh-Ag 1.3", "Hh-Ag 1.5", "Inactive Hh-Ag"], "range": ["#4b2d91", "#17a673", "#ec2950", "#19b2ec", "#1a1a1a"]}, "legend": null}}},
    {"data": {"name": "c_pts"}, "transform": [{"filter": "isValid(datum.lo)"}],
     "mark": {"type": "rule", "strokeWidth": 1},
     "encoding": {"x": {"field": "x", "type": "quantitative"}, "y": {"field": "lo", "type": "quantitative"}, "y2": {"field": "hi"}, "color": {"field": "s", "type": "nominal", "legend": null}}},
    {"data": {"name": "c_pts"}, "transform": [{"filter": "isValid(datum.lo)"}, {"fold": ["lo", "hi"], "as": ["k", "v"]}],
     "mark": {"type": "point", "shape": "stroke", "size": 25, "strokeWidth": 1, "opacity": 1},
     "encoding": {"x": {"field": "x", "type": "quantitative"}, "y": {"field": "v", "type": "quantitative"}, "color": {"field": "s", "type": "nominal", "legend": null}}},
    {"data": {"name": "c_pts"},
     "mark": {"type": "point", "filled": false, "opacity": 1, "strokeWidth": 1.3, "size": 20},
     "encoding": {
      "x": {"field": "x", "type": "quantitative"}, "y": {"field": "y", "type": "quantitative"},
      "color": {"field": "s", "type": "nominal", "legend": {"orient": "none", "legendX": 157, "legendY": 26, "labelFontSize": 11.5, "rowPadding": 1.5, "symbolSize": 20}},
      "fill": {"field": "s", "type": "nominal", "scale": {"domain": ["Hh-Ag 1.1", "Hh-Ag 1.2", "Hh-Ag 1.3", "Hh-Ag 1.5", "Inactive Hh-Ag"], "range": ["white", "white", "white", "#19b2ec", "white"]}, "legend": {"orient": "none", "legendX": 157, "legendY": 26, "labelFontSize": 11.5, "rowPadding": 1.5, "symbolSize": 20}}}}
   ]},
  {"width": 175, "height": 140,
   "title": {"text": "(d)", "anchor": "start", "frame": "bounds", "fontSize": 16, "fontWeight": "bold", "dx": -20, "offset": -3},
   "layer": [
    {"data": {"name": "d_fit"},
     "mark": {"type": "line", "strokeWidth": 1.6, "interpolate": "monotone"},
     "encoding": {
      "x": {"field": "x", "type": "quantitative", "scale": {"domain": [-11, -5], "nice": false}, "title": "Log concentration of competitor (M)", "axis": {"values": [-11, -10, -9, -8, -7, -6, -5], "tickCount": 30, "format": "d"}},
      "y": {"field": "y", "type": "quantitative", "scale": {"domain": [0, 100], "nice": false}, "title": "Specific binding (% of maximum)", "axis": {"values": [0,10,20,30,40,50,60,70,80,90,100], "tickCount": 30, "format": "d"}},
      "color": {"field": "s", "type": "nominal", "scale": {"domain": ["KAAD-cyclopamine,  Smoʷᵗ", "Cur61414, Smoʷᵗ", "Hh-Ag 1.5, Smoʷᵗ", "KAAD cyclopamine,  Smoᵃᶜᵗ", "Cur61414, Smoᵃᶜᵗ", "Hh-Ag 1.5, Smoᵃᶜᵗ"], "range": ["#ec4565", "#17a05d", "#7c64b8", "#e5192e", "#1fae6c", "#3b2486"]}, "legend": null},
      "strokeDash": {"field": "s", "type": "nominal", "scale": {"domain": ["KAAD-cyclopamine,  Smoʷᵗ", "Cur61414, Smoʷᵗ", "Hh-Ag 1.5, Smoʷᵗ", "KAAD cyclopamine,  Smoᵃᶜᵗ", "Cur61414, Smoᵃᶜᵗ", "Hh-Ag 1.5, Smoᵃᶜᵗ"], "range": [[4, 2.5], [1, 0], [4, 2.5], [1, 0], [4, 2.5], [1, 0]]}, "legend": null}}},
    {"data": {"name": "d_pts"}, "transform": [{"filter": "isValid(datum.lo)"}],
     "mark": {"type": "rule", "strokeWidth": 1},
     "encoding": {"x": {"field": "x", "type": "quantitative"}, "y": {"field": "lo", "type": "quantitative"}, "y2": {"field": "hi"}, "color": {"field": "s", "type": "nominal", "legend": null}}},
    {"data": {"name": "d_pts"}, "transform": [{"filter": "isValid(datum.lo)"}, {"fold": ["lo", "hi"], "as": ["k", "v"]}],
     "mark": {"type": "point", "shape": "stroke", "size": 25, "strokeWidth": 1, "opacity": 1},
     "encoding": {"x": {"field": "x", "type": "quantitative"}, "y": {"field": "v", "type": "quantitative"}, "color": {"field": "s", "type": "nominal", "legend": null}}},
    {"data": {"name": "d_pts"},
     "mark": {"type": "point", "filled": true, "opacity": 1, "strokeWidth": 1.2},
     "encoding": {
      "x": {"field": "x", "type": "quantitative"}, "y": {"field": "y", "type": "quantitative"},
      "shape": {"field": "s", "type": "nominal", "scale": {"domain": ["KAAD-cyclopamine,  Smoʷᵗ", "Cur61414, Smoʷᵗ", "Hh-Ag 1.5, Smoʷᵗ", " ", "KAAD cyclopamine,  Smoᵃᶜᵗ", "Cur61414, Smoᵃᶜᵗ", "Hh-Ag 1.5, Smoᵃᶜᵗ"], "range": ["square", "triangle-up", "circle", "circle", "square", "triangle-up", "circle"]}, "legend": {"orient": "none", "legendX": 178, "legendY": 17}},
      "fill": {"field": "s", "type": "nominal", "scale": {"domain": ["KAAD-cyclopamine,  Smoʷᵗ", "Cur61414, Smoʷᵗ", "Hh-Ag 1.5, Smoʷᵗ", " ", "KAAD cyclopamine,  Smoᵃᶜᵗ", "Cur61414, Smoᵃᶜᵗ", "Hh-Ag 1.5, Smoᵃᶜᵗ"], "range": ["white", "#17a05d", "white", "transparent", "#e5192e", "#1fae6c", "#3b2486"]}, "legend": {"orient": "none", "legendX": 178, "legendY": 17}},
      "stroke": {"field": "s", "type": "nominal", "scale": {"domain": ["KAAD-cyclopamine,  Smoʷᵗ", "Cur61414, Smoʷᵗ", "Hh-Ag 1.5, Smoʷᵗ", " ", "KAAD cyclopamine,  Smoᵃᶜᵗ", "Cur61414, Smoᵃᶜᵗ", "Hh-Ag 1.5, Smoᵃᶜᵗ"], "range": ["#ec4565", "#17a05d", "#7c64b8", "transparent", "#e5192e", "#1fae6c", "#3b2486"]}, "legend": {"orient": "none", "legendX": 178, "legendY": 17}},
      "size": {"field": "s", "type": "nominal", "scale": {"domain": ["KAAD-cyclopamine,  Smoʷᵗ", "Cur61414, Smoʷᵗ", "Hh-Ag 1.5, Smoʷᵗ", " ", "KAAD cyclopamine,  Smoᵃᶜᵗ", "Cur61414, Smoᵃᶜᵗ", "Hh-Ag 1.5, Smoᵃᶜᵗ"], "range": [16, 26, 16, 10, 22, 10, 24]}, "legend": {"orient": "none", "legendX": 178, "legendY": 17}}}}
   ]}
 ]
}
